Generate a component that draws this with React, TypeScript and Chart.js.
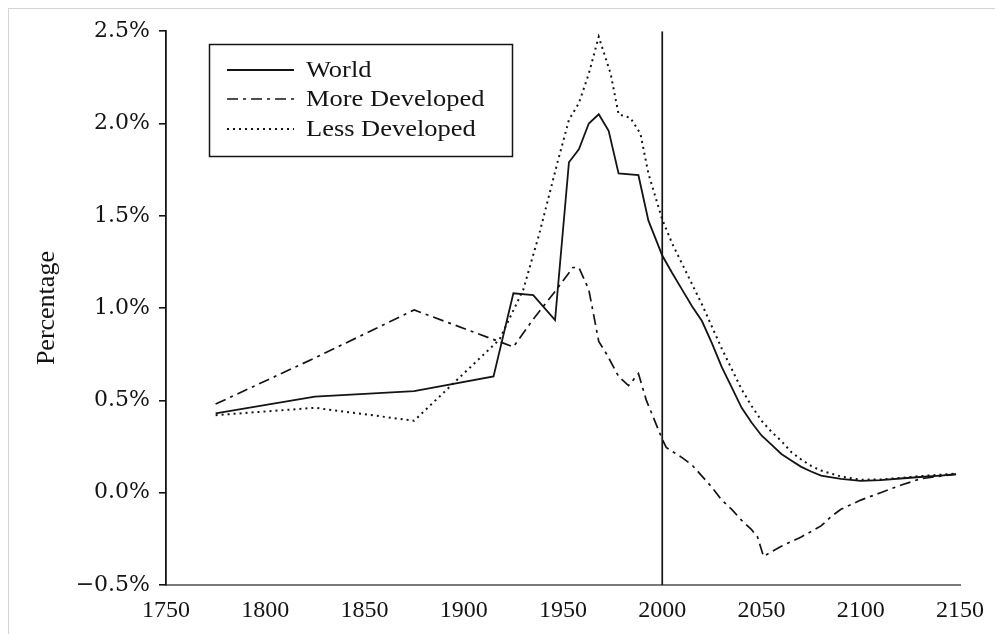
import React, { useEffect, useRef } from "react";
import { Chart, registerables } from "chart.js";

Chart.register(...registerables);

// ---- Data (annual growth rate of population, %) ----
const seriesNames = ["World", "More Developed", "Less Developed"];

const worldYears = [1775, 1825, 1875, 1915, 1925, 1935, 1946, 1953, 1958, 1963, 1968, 1973, 1978, 1988, 1993, 2000, 2005, 2010, 2015, 2020, 2025, 2030, 2035, 2040, 2045, 2050, 2055, 2060, 2065, 2070, 2075, 2080, 2090, 2100, 2110, 2120, 2130, 2140, 2148];
const worldValues = [0.43, 0.52, 0.55, 0.63, 1.08, 1.07, 0.935, 1.79, 1.86, 2.0, 2.05, 1.96, 1.73, 1.72, 1.475, 1.285, 1.19, 1.1, 1.01, 0.93, 0.81, 0.68, 0.57, 0.46, 0.38, 0.31, 0.26, 0.21, 0.175, 0.14, 0.115, 0.093, 0.075, 0.064, 0.068, 0.077, 0.085, 0.093, 0.1];

const moreYears = [1775, 1825, 1875, 1925, 1935, 1946, 1955, 1958, 1963, 1968, 1972, 1978, 1983, 1988, 1992, 2000, 2002, 2010, 2015, 2020, 2025, 2030, 2035, 2040, 2045, 2048, 2051, 2060, 2070, 2080, 2085, 2090, 2100, 2110, 2120, 2130, 2140, 2148];
const moreValues = [0.48, 0.73, 0.99, 0.79, 0.94, 1.09, 1.22, 1.22, 1.1, 0.82, 0.75, 0.63, 0.58, 0.645, 0.5, 0.29, 0.245, 0.19, 0.15, 0.09, 0.03, -0.04, -0.09, -0.15, -0.2, -0.24, -0.345, -0.29, -0.24, -0.18, -0.13, -0.09, -0.04, 0.0, 0.04, 0.075, 0.09, 0.1];

const lessYears = [1775, 1825, 1875, 1918, 1930, 1938, 1947, 1953, 1958, 1963, 1968, 1974, 1978, 1984, 1989, 1993, 2000, 2005, 2010, 2015, 2020, 2025, 2030, 2035, 2040, 2045, 2050, 2055, 2060, 2065, 2070, 2075, 2080, 2090, 2100, 2110, 2120, 2130, 2140, 2148];
const lessValues = [0.42, 0.46, 0.39, 0.83, 1.1, 1.4, 1.78, 2.02, 2.11, 2.27, 2.47, 2.27, 2.05, 2.03, 1.945, 1.73, 1.48, 1.35, 1.24, 1.13, 1.02, 0.9, 0.78, 0.67, 0.56, 0.47, 0.39, 0.33, 0.28, 0.22, 0.18, 0.145, 0.12, 0.088, 0.07, 0.072, 0.08, 0.09, 0.097, 0.104];

const referenceYear = 2000;
const xTickValues = [1750, 1800, 1850, 1900, 1950, 2000, 2050, 2100, 2150];
const yTickValues = [-0.5, 0, 0.5, 1.0, 1.5, 2.0, 2.5];

const INK = "#141414";
const lineDashes: number[][] = [[], [11, 5, 3, 5], [2, 4]];
const lineWidths = [1.8, 1.7, 2.0];

export default function App() {
  const ref = useRef<HTMLCanvasElement>(null);

  useEffect(() => {
    if (!ref.current) return;
    const pts = (xs: number[], ys: number[]) => xs.map((x, i) => ({ x, y: ys[i] }));

    const legendPlugin = {
      id: "boxLegend",
      afterDraw(chart: any) {
        const ctx = chart.ctx as CanvasRenderingContext2D;
        ctx.save();
        ctx.strokeStyle = INK;
        ctx.lineWidth = 1.5;
        ctx.setLineDash([]);
        ctx.strokeRect(200.5, 35.5, 303, 112);
        const rows = [61, 90, 120];
        rows.forEach((y, i) => {
          ctx.setLineDash(lineDashes[i]);
          ctx.lineWidth = lineWidths[i];
          ctx.beginPath();
          ctx.moveTo(218, y);
          ctx.lineTo(285, y);
          ctx.stroke();
          ctx.setLineDash([]);
          ctx.save();
          ctx.translate(297, y + 1);
          ctx.scale(1.15, 1);
          ctx.font = '23px "Liberation Serif"';
          ctx.fillStyle = INK;
          ctx.textBaseline = "middle";
          ctx.fillText(seriesNames[i], 0, 0);
          ctx.restore();
        });
        ctx.restore();
      },
    };

    const mk = (label: string, data: any[], i: number) => ({
      label,
      data,
      borderColor: INK,
      borderWidth: lineWidths[i],
      borderDash: lineDashes[i],
      pointRadius: 0,
      tension: 0,
      fill: false,
    });

    const chart = new Chart(ref.current, {
      type: "line",
      data: {
        datasets: [
          mk(seriesNames[0], pts(worldYears, worldValues), 0),
          mk(seriesNames[1], pts(moreYears, moreValues), 1),
          mk(seriesNames[2], pts(lessYears, lessValues), 2),
          {
            label: "ref",
            data: [
              { x: referenceYear, y: yTickValues[0] },
              { x: referenceYear, y: yTickValues[yTickValues.length - 1] },
            ],
            borderColor: INK,
            borderWidth: 1.7,
            pointRadius: 0,
            fill: false,
          },
        ],
      },
      options: {
        animation: false,
        responsive: false,
        devicePixelRatio: 1,
        layout: { padding: { left: 0, right: 35, top: 21, bottom: 0 } },
        plugins: {
          legend: { display: false },
          tooltip: { enabled: false },
        },
        scales: {
          x: {
            type: "linear",
            min: 1750,
            max: 2150,
            afterBuildTicks: (s: any) => {
              s.ticks = xTickValues.map((v) => ({ value: v }));
            },
            afterFit: (s: any) => {
              s.height = 49;
            },
            grid: { display: true, drawOnChartArea: false, drawTicks: false },
            border: { display: true, color: "#7a7a7a", width: 2 },
            ticks: {
              padding: 11,
              color: INK,
              font: { family: '"Liberation Serif"', size: 24 },
              maxRotation: 0,
              callback: (v: any) => String(v),
            },
          },
          y: {
            type: "linear",
            min: -0.5,
            max: 2.5,
            afterBuildTicks: (s: any) => {
              s.ticks = yTickValues.map((v) => ({ value: v }));
            },
            afterFit: (s: any) => {
              s.width = 157;
            },
            grid: {
              display: true,
              drawOnChartArea: false,
              drawTicks: true,
              tickLength: 7,
              color: INK,
              lineWidth: 1.6,
            },
            border: { display: true, color: INK, width: 1.8 },
            ticks: {
              padding: 9,
              color: INK,
              font: { family: '"DejaVu Serif"', size: 22 },
              callback: (v: any) => {
                const n = Number(v);
                const s = Math.abs(n).toFixed(1) + "%";
                return n < 0 ? "\u2212" + s : s;
              },
            },
            title: {
              display: true,
              text: "Percentage",
              color: INK,
              font: { family: '"Liberation Serif"', size: 26 },
              padding: { top: 23, bottom: 0 },
            },
          },
        },
      },
      plugins: [legendPlugin],
    } as any);

    return () => chart.destroy();
  }, []);

  return (
    <div
      style={{
        position: "relative",
        width: 986,
        height: 625,
        borderTop: "1px solid #d4d4d4",
        borderLeft: "1px solid #d4d4d4",
        background: "#fff",
      }}
    >
      <canvas ref={ref} width={986} height={625} style={{ display: "block" }} />
    </div>
  );
}
